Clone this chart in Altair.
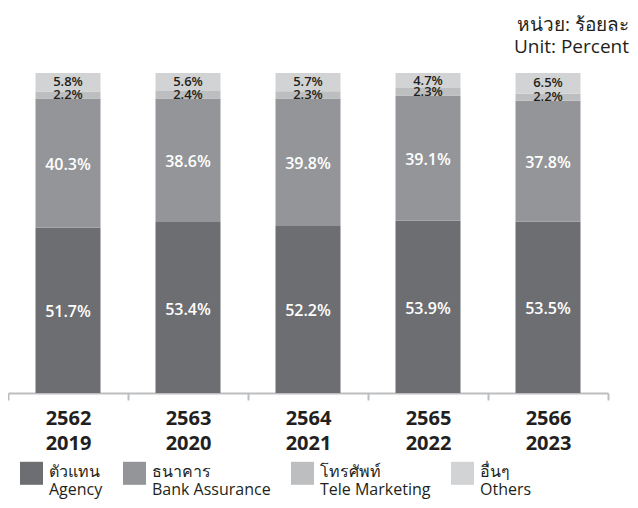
import altair as alt
import pandas as pd

years = ["2562|2019", "2563|2020", "2564|2021", "2565|2022", "2566|2023"]
channels = ["ตัวแทน|Agency", "ธนาคาร|Bank Assurance", "โทรศัพท์|Tele Marketing", "อื่นๆ|Others"]
agency = [51.7, 53.4, 52.2, 53.9, 53.5]
bank = [40.3, 38.6, 39.8, 39.1, 37.8]
tele = [2.2, 2.4, 2.3, 2.3, 2.2]
others = [5.8, 5.6, 5.7, 4.7, 6.5]
colors = ["#6d6e71", "#939598", "#bcbec0", "#d1d3d4"]

rows = []
for i, y in enumerate(years):
    for k, (ch, vals) in enumerate(zip(channels, [agency, bank, tele, others])):
        rows.append({"year": y, "channel": ch, "order": k, "value": vals[i]})
df = pd.DataFrame(rows)

FONT = "Open Sans"

base = alt.Chart(df).transform_stack(
    stack="value", groupby=["year"], as_=["y0", "y1"],
    sort=[alt.SortField("order", order="ascending")]
).transform_calculate(
    mid="(datum.y0 + datum.y1) / 2",
    lbl="format(datum.value, '.1f') + '%'"
)

x_enc = alt.X("year:N", sort=years, title=None,
              scale=alt.Scale(paddingInner=0, paddingOuter=0),
              axis=alt.Axis(labelExpr="split(datum.label, '|')", labelAngle=0,
                            labelFont=FONT, labelFontSize=20, labelFontWeight="bold",
                            labelColor="#231f20", labelLineHeight=25, labelPadding=8,
                            domainColor="#bcbec0", domainWidth=2,
                            tickColor="#bcbec0", tickWidth=2, tickSize=7,
                            tickBand="extent", grid=False))

bars = base.mark_bar(size=65).encode(
    x=x_enc,
    y=alt.Y("y1:Q", scale=alt.Scale(domain=[0, 100], nice=False, zero=True), axis=None),
    y2="y0:Q",
    color=alt.Color("channel:N", sort=channels,
                    scale=alt.Scale(domain=channels, range=colors),
                    legend=alt.Legend(
                        orient="none", legendX=12, legendY=392, direction="horizontal",
                        title=None, symbolType="M-1,-1.3H1V0.7H-1Z", symbolSize=529,
                        symbolStrokeWidth=0, symbolOpacity=1,
                        labelExpr="split(datum.label, '|')", labelFont=FONT,
                        labelFontSize=16, labelColor="#231f20", labelBaseline="alphabetic",
                        labelOffset=6, columnPadding=20, labelLimit=300, padding=0)),
    order=alt.Order("order:Q")
)

big = base.transform_filter("datum.order < 2").mark_text(
    font=FONT, fontSize=16, fontWeight=600, color="white", baseline="middle", dy=2
).encode(x=alt.X("year:N", sort=years), y="mid:Q", text="lbl:N")

small = base.transform_filter("datum.order >= 2").mark_text(
    font=FONT, fontSize=13, fontWeight=600, color="#231f20", baseline="middle"
).encode(x=alt.X("year:N", sort=years), y="mid:Q", text="lbl:N")

chart = alt.layer(bars, big, small).properties(
    width=600, height=320,
    title=alt.TitleParams(text="หน่วย: ร้อยละ", subtitle="Unit: Percent", anchor="end",
                          orient="top", frame="group", font=FONT, subtitleFont=FONT,
                          fontSize=19, subtitleFontSize=19, fontWeight="normal",
                          color="#231f20", subtitleColor="#231f20", dx=21, offset=16,
                          subtitlePadding=3),
    autosize=alt.AutoSizeParams(type="none"),
    padding={"left": 0, "top": 65, "right": 22, "bottom": 107}
).configure_view(stroke=None)

chart.save("out.html", embed_options={"renderer": "svg", "actions": False})
